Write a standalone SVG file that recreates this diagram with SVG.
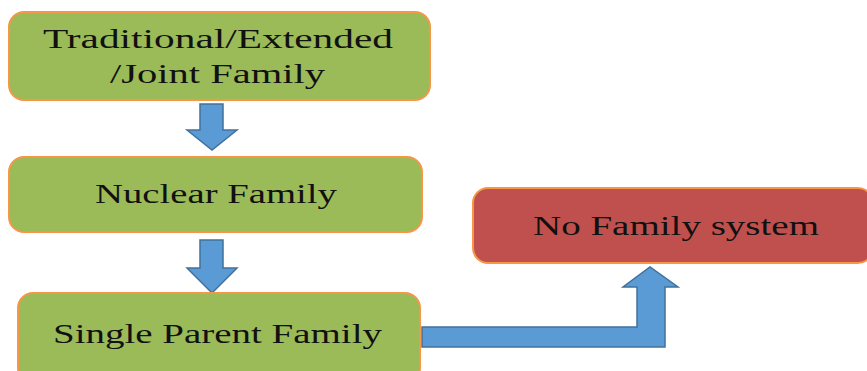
<svg xmlns="http://www.w3.org/2000/svg" width="867" height="371" viewBox="0 0 867 371">
<style>
.g{fill:#9BBB59;stroke:#F79646;stroke-width:2}
.r{fill:#C0504D;stroke:#F79646;stroke-width:2}
.a{fill:#5B9BD5;stroke:#41719C;stroke-width:1.5;stroke-linejoin:miter}
text{font-family:"Liberation Serif","DejaVu Serif",serif;font-size:28px;fill:#111;text-anchor:middle}
</style>
<rect width="867" height="371" fill="#fff"/>
<g id="connectors">
<path class="a" d="M200,104 H223 V130 H237 L212,150 L187,130 H200 Z"/>
<path class="a" d="M200,240 H223 V268 H237 L212,293 L187,268 H200 Z"/>
<path class="a" d="M422,327 H637 V287 H623 L650,267 L678,287 H665 V347 H422 Z"/>
</g>
<g id="n1">
<rect class="g" x="9" y="12" width="421" height="88" rx="15"/>
<text x="218" y="48" textLength="350" lengthAdjust="spacingAndGlyphs">Traditional/Extended</text>
<text x="217.5" y="83" textLength="215" lengthAdjust="spacingAndGlyphs">/Joint Family</text>
</g>
<g id="n2">
<rect class="g" x="9" y="157" width="413" height="75" rx="15"/>
<text x="216" y="203" textLength="242" lengthAdjust="spacingAndGlyphs">Nuclear Family</text>
</g>
<g id="n3">
<rect class="g" x="18" y="293" width="402" height="90" rx="15"/>
<text x="217.5" y="343" textLength="329" lengthAdjust="spacingAndGlyphs">Single Parent Family</text>
</g>
<g id="n4">
<rect class="r" x="473" y="188" width="400" height="75" rx="15"/>
<text x="676" y="235" textLength="286" lengthAdjust="spacingAndGlyphs">No Family system</text>
</g>
</svg>
